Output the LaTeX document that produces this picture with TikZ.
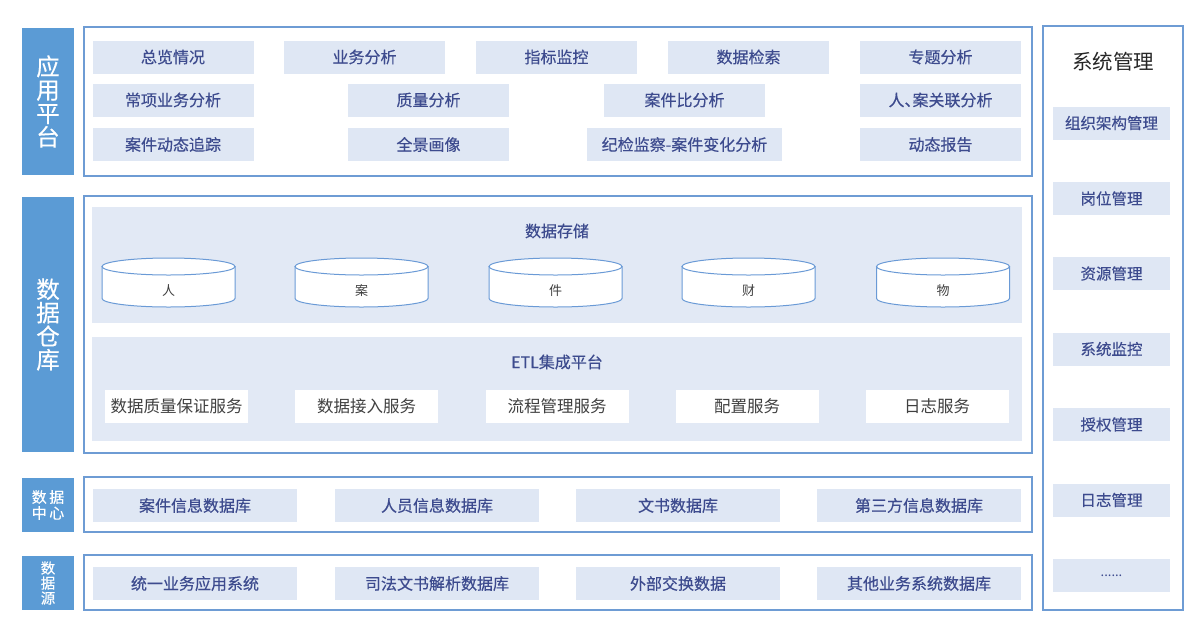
\documentclass[tikz,border=0pt]{standalone}
\usepackage{fontspec}
\setmainfont{Noto Sans CJK SC}
\newfontfamily\cjkm{Noto Sans CJK SC}[FakeBold=0.35]
\newfontfamily\cjkr{Noto Sans CJK SC}
\definecolor{barblue}{HTML}{5B9BD5}
\definecolor{frameblue}{HTML}{6E9CD4}
\definecolor{itemfill}{HTML}{DFE7F4}
\definecolor{panelfill}{HTML}{E2E9F5}
\definecolor{itemtext}{HTML}{3D4B8E}
\definecolor{cylline}{HTML}{6A9AD6}
\definecolor{darktext}{HTML}{404040}
\tikzset{
  bar/.style={fill=barblue, draw=none, text=white, align=center, inner sep=0pt, minimum width=52pt},
  frame/.style={draw=frameblue, line width=1.6pt, fill=white, inner sep=0pt},
  panel/.style={fill=panelfill, draw=none, inner sep=0pt, minimum width=930pt},
  item/.style={fill=itemfill, draw=none, text=itemtext, inner sep=0pt, minimum height=33pt,
    font=\cjkm\fontsize{16}{18}\selectfont},
  svc/.style={fill=white, draw=none, text=darktext, inner sep=0pt, minimum height=33pt, minimum width=143pt,
    font=\cjkr\fontsize{16.5}{18}\selectfont},
  sysitem/.style={item, minimum width=117pt, font=\cjkm\fontsize{15.5}{18}\selectfont},
  ptitle/.style={text=itemtext, font=\cjkm\fontsize{16}{18}\selectfont, inner sep=0pt},
  cyl/.style={draw=cylline, line width=1pt, fill=white},
  cyllabel/.style={text=darktext, font=\cjkr\fontsize{13}{15}\selectfont, inner sep=0pt}
}
\begin{document}
\begin{tikzpicture}[x=1pt, y=-1pt]
\useasboundingbox[fill=white] (0,0) rectangle (1200,638);

% left bars
\node[bar, minimum height=147pt, font=\cjkm\fontsize{23.5}{23.5}\selectfont] (barapp) at (48,101.5) {应\\用\\平\\台};
\node[bar, minimum height=255pt, font=\cjkm\fontsize{23.5}{23.5}\selectfont] (bardw) at (48,324.5) {数\\据\\仓\\库};
\node[bar, minimum height=54pt, font=\cjkm\fontsize{15}{16}\selectfont] (bardc) at (48,505) {数\,据\\中\,心};
\node[bar, minimum height=54pt, font=\cjkm\fontsize{14.5}{15}\selectfont] (bards) at (48,583) {数\\据\\源};

% outer frames
\node[frame, minimum width=948pt, minimum height=149pt] (app) at (558,101.5) {};
\node[frame, minimum width=948pt, minimum height=257pt] (dw) at (558,324.5) {};
\node[frame, minimum width=948pt, minimum height=55pt] (dc) at (558,504.5) {};
\node[frame, minimum width=948pt, minimum height=55pt] (ds) at (558,582.5) {};
\node[frame, minimum width=140pt, minimum height=584pt] (sys) at (1113,318) {};

% application platform
\node[item, minimum width=161pt] (a11) at (173,57) {总览情况};
\node[item, minimum width=161pt] (a12) at (364.5,57) {业务分析};
\node[item, minimum width=161pt] (a13) at (556.5,57) {指标监控};
\node[item, minimum width=161pt] (a14) at (748.5,57) {数据检索};
\node[item, minimum width=161pt] (a15) at (940.5,57) {专题分析};
\node[item, minimum width=161pt] (a21) at (173,100) {常项业务分析};
\node[item, minimum width=161pt] (a22) at (428.5,100) {质量分析};
\node[item, minimum width=161pt] (a23) at (684.5,100) {案件比分析};
\node[item, minimum width=161pt] (a24) at (940.5,100) {人、\hspace{-0.5em}案关联分析};
\node[item, minimum width=161pt] (a31) at (173,144.5) {案件动态追踪};
\node[item, minimum width=161pt] (a32) at (428.5,144.5) {全景画像};
\node[item, minimum width=195pt] (a33) at (684.5,144.5) {纪检监察-案件变化分析};
\node[item, minimum width=161pt] (a34) at (940.5,144.5) {动态报告};

% data warehouse
\node[panel, minimum height=116pt] (store) at (557,265) {};
\node[panel, minimum height=104pt] (etl) at (557,389) {};
\node[ptitle] (storetitle) at (557,231) {数据存储};
\node[ptitle] (etltitle) at (557,362) {ETL集成平台};

\foreach \cx/\lab/\nm in {168.5/人/c1, 361.5/案/c2, 555.5/件/c3, 748.5/财/c4, 943/物/c5}{
  \path[cyl] (\cx-66.5,266.5) -- (\cx-66.5,298.5)
     arc[start angle=180, end angle=360, x radius=66.5pt, y radius=8.5pt]
     -- (\cx+66.5,266.5) -- cycle;
  \path[cyl] (\cx,266.5) ellipse [x radius=66.5pt, y radius=8.5pt];
  \node[cyllabel] (\nm) at (\cx,291) {\lab};
}

\node[svc] (s1) at (176.5,406.5) {数据质量保证服务};
\node[svc] (s2) at (366.5,406.5) {数据接入服务};
\node[svc] (s3) at (557,406.5) {流程管理服务};
\node[svc] (s4) at (747,406.5) {配置服务};
\node[svc] (s5) at (937,406.5) {日志服务};

% data center
\node[item, minimum width=204pt] (d1) at (195,505.5) {案件信息数据库};
\node[item, minimum width=204pt] (d2) at (437,505.5) {人员信息数据库};
\node[item, minimum width=204pt] (d3) at (678,505.5) {文书数据库};
\node[item, minimum width=204pt] (d4) at (919,505.5) {第三方信息数据库};

% data source
\node[item, minimum width=204pt] (e1) at (195,583.5) {统一业务应用系统};
\node[item, minimum width=204pt] (e2) at (437,583.5) {司法文书解析数据库};
\node[item, minimum width=204pt] (e3) at (678,583.5) {外部交换数据};
\node[item, minimum width=204pt] (e4) at (919,583.5) {其他业务系统数据库};

% system management
\node[text=black!85, font=\cjkr\fontsize{20.5}{22}\selectfont, inner sep=0pt] (systitle) at (1113,62) {系统管理};
\node[sysitem] (m1) at (1111.5,123) {组织架构管理};
\node[sysitem] (m2) at (1111.5,198.5) {岗位管理};
\node[sysitem] (m3) at (1111.5,273.5) {资源管理};
\node[sysitem] (m4) at (1111.5,349) {系统监控};
\node[sysitem] (m5) at (1111.5,424.5) {授权管理};
\node[sysitem] (m6) at (1111.5,500) {日志管理};
\node[sysitem, font=\cjkr\fontsize{13}{15}\selectfont] (m7) at (1111.5,575.5) {......};
\end{tikzpicture}
\end{document}
